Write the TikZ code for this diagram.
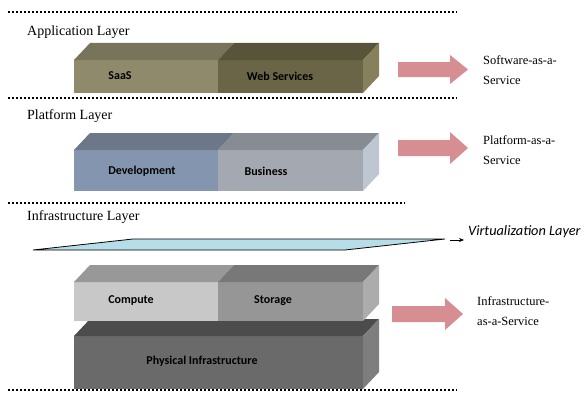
\documentclass[tikz,border=0pt]{standalone}
\usepackage{fontspec}
\setmainfont{Liberation Serif}
\newfontfamily\serfont{Liberation Serif}
\newfontfamily\labfont{Carlito}
\usetikzlibrary{arrows.meta}
\definecolor{saasF}{RGB}{143,138,108}
\definecolor{saasT}{RGB}{120,116,92}
\definecolor{webF}{RGB}{106,101,70}
\definecolor{webT}{RGB}{88,84,58}
\definecolor{appS}{RGB}{134,129,92}
\definecolor{devF}{RGB}{132,150,175}
\definecolor{devT}{RGB}{108,120,138}
\definecolor{busF}{RGB}{164,168,176}
\definecolor{busT}{RGB}{135,139,146}
\definecolor{platS}{RGB}{190,198,210}
\definecolor{comF}{RGB}{200,200,200}
\definecolor{comT}{RGB}{152,152,152}
\definecolor{stoF}{RGB}{150,150,150}
\definecolor{stoT}{RGB}{120,120,120}
\definecolor{comS}{RGB}{172,172,172}
\definecolor{phyF}{RGB}{106,106,106}
\definecolor{phyT}{RGB}{76,76,76}
\definecolor{phyS}{RGB}{126,126,126}
\definecolor{arrowpink}{RGB}{214,142,147}
\definecolor{virtblue}{RGB}{183,221,232}
\newcommand\boxseg[6]{%
  \fill[#5] (#1,#3) rectangle (#2,#4);
  \fill[#6] (#1,#3) -- ({#1+16},{#3-17}) -- ({#2+16},{#3-17}) -- (#2,#3) -- cycle;}
\newcommand\boxside[3]{%
  \fill[#3] (363,#1) -- (379,{#1-17}) -- (379,{#2-17}) -- (363,#2) -- cycle;}
\tikzset{
  dotline/.style={line width=2.2pt, dash pattern=on 2.2pt off 1.8pt},
  layertitle/.style={anchor=west, inner sep=0pt, font=\serfont\fontsize{14}{16}\selectfont},
  boxlabel/.style={inner sep=0pt, font=\labfont\bfseries\fontsize{12}{14}\selectfont},
  servtext/.style={anchor=west, inner sep=0pt, align=left, font=\serfont\fontsize{12.5}{20}\selectfont},
  pinkarrow/.style={fill=arrowpink}
}
\begin{document}
\begin{tikzpicture}[x=1pt,y=-1pt]
\useasboundingbox (0,0) rectangle (585,396);
% dotted separators
\draw[dotline] (8,12) -- (457,12);
\draw[dotline] (8,98) -- (457,98);
\draw[dotline] (8,203) -- (405,203);
\draw[dotline] (8,390) -- (457,390);
% layer titles
\node[layertitle] (tapp) at (27,32) {Application Layer};
\node[layertitle] (tplat) at (27,116) {Platform Layer};
\node[layertitle] (tinfra) at (27,217) {Infrastructure Layer};
% application box
\boxseg{74}{218}{60}{93}{saasF}{saasT}
\boxseg{218}{363}{60}{93}{webF}{webT}
\boxside{60}{93}{appS}
\node[boxlabel] (saas) at (120,76) {SaaS};
\node[boxlabel] (web) at (280,76) {Web Services};
% platform box
\boxseg{74}{218}{150}{191}{devF}{devT}
\boxseg{218}{363}{150}{191}{busF}{busT}
\boxside{150}{191}{platS}
\node[boxlabel] (dev) at (142,171) {Development};
\node[boxlabel] (bus) at (266,171) {Business};
% physical box
\boxseg{74}{363}{336}{389}{phyF}{phyT}
\boxside{336}{389}{phyS}
\node[boxlabel] (phys) at (202,361) {Physical Infrastructure};
% compute/storage box
\boxseg{74}{218}{282}{321}{comF}{comT}
\boxseg{218}{363}{282}{321}{stoF}{stoT}
\boxside{282}{321}{comS}
\node[boxlabel] (comp) at (131,301) {Compute};
\node[boxlabel] (stor) at (273,301) {Storage};
% virtualization layer
\fill[virtblue, draw=black, line width=0.8pt] (33,250) -- (133,239) -- (445,239) -- (345,250) -- cycle;
\coordinate (vstart) at (450,240);
\node[anchor=west, inner sep=0pt, font=\labfont\itshape\fontsize{14.3}{16}\selectfont] (vlab) at (468,232) {Virtualization Layer};
\coordinate (vend) at (464,240);
\draw[-{Stealth[length=5pt,width=4pt]}, line width=0.7pt] (vstart) -- (vend);
% pink arrows
\fill[pinkarrow] (398,62) -- (450,62) -- (450,55) -- (468,69.5) -- (450,84) -- (450,77) -- (398,77) -- cycle;
\fill[pinkarrow] (398,140) -- (450,140) -- (450,132) -- (468,148) -- (450,164) -- (450,156) -- (398,156) -- cycle;
\fill[pinkarrow] (392,306) -- (445,306) -- (445,298) -- (463,314) -- (445,330) -- (445,322) -- (392,322) -- cycle;
% service texts
\node[servtext] (saasT) at (483,70) {Software-as-a-\\Service};
\node[servtext] (paasT) at (483,150.5) {Platform-as-a-\\Service};
\node[servtext] (iaasT) at (477,311) {Infrastructure-\\as-a-Service};
\end{tikzpicture}
\end{document}
